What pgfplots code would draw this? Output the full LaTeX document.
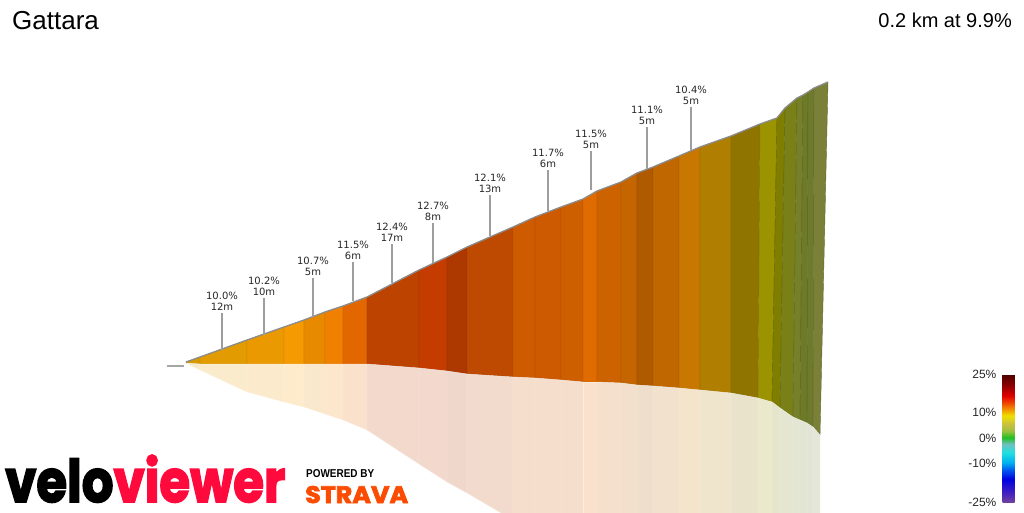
\documentclass[border=0pt]{standalone}
\usepackage{fontspec}
\setmainfont{Liberation Sans}
\newfontfamily\dv{DejaVu Sans}
\newfontfamily\logofont{Poppins}[BoldFeatures={FakeBold=3}]
\usepackage{pgfplots}
\pgfplotsset{compat=1.18}
\definecolor{c0}{HTML}{D99A00}
\definecolor{c1}{HTML}{E29B00}
\definecolor{c2}{HTML}{EA9A00}
\definecolor{c3}{HTML}{F59A00}
\definecolor{c4}{HTML}{E88A00}
\definecolor{c5}{HTML}{F08000}
\definecolor{c6}{HTML}{E36700}
\definecolor{c7}{HTML}{BC4300}
\definecolor{c8}{HTML}{C43C00}
\definecolor{c9}{HTML}{AD3900}
\definecolor{c10}{HTML}{BD4A00}
\definecolor{c11}{HTML}{CF5B00}
\definecolor{c12}{HTML}{CD5900}
\definecolor{c13}{HTML}{CE5F00}
\definecolor{c14}{HTML}{E06B00}
\definecolor{c15}{HTML}{CD6300}
\definecolor{c16}{HTML}{C56500}
\definecolor{c17}{HTML}{B05A00}
\definecolor{c18}{HTML}{C06700}
\definecolor{c19}{HTML}{C87700}
\definecolor{c20}{HTML}{B07E00}
\definecolor{c21}{HTML}{8F7400}
\definecolor{c22}{HTML}{9B9300}
\definecolor{c23}{HTML}{7F7E00}
\definecolor{c24}{HTML}{798018}
\definecolor{c25}{HTML}{76802A}
\definecolor{c26}{HTML}{6F7A28}
\definecolor{c27}{HTML}{6E7A2C}
\definecolor{c28}{HTML}{7A8038}
\definecolor{vvred}{HTML}{FF0A3C}
\definecolor{strava}{HTML}{FC4C02}
% segment: colour, then 4 corners
\newcommand{\seg}[2]{\addplot[fill=#1, draw=#1!82!black, line width=0.4pt] coordinates {#2} -- cycle;}
\newcommand{\refl}[2]{\addplot[fill=#1!20!white, draw=#1!12!white, line width=0.4pt] coordinates {#2} -- cycle;}
\newcommand{\lab}[5]{%
  \addplot[draw=black!38, line width=1.2pt] coordinates {(#1,#2) (#1,#3)};
  \node[anchor=south, align=center, inner sep=0pt, text=black!85, font=\dv\fontsize{10}{11}\selectfont] at (axis cs:#1,#2-2) {#4\\#5};}
\begin{document}
\begin{tikzpicture}
\begin{axis}[
  scale only axis, width=1024pt, height=512pt,
  xmin=0, xmax=1024, ymin=0, ymax=512, y dir=reverse,
  hide axis,
  point meta min=-25, point meta max=25,
  colormap={vv}{rgb255(0pt)=(112,64,160) rgb255(3.7pt)=(64,32,192) rgb255(8.9pt)=(0,0,224)
    rgb255(12.8pt)=(0,96,240) rgb255(15.4pt)=(0,176,240) rgb255(19.3pt)=(32,224,224)
    rgb255(22.6pt)=(112,192,192) rgb255(25.2pt)=(32,192,32) rgb255(27.8pt)=(160,192,64)
    rgb255(30.4pt)=(200,192,64) rgb255(33.7pt)=(240,224,0) rgb255(36.3pt)=(240,144,0)
    rgb255(38.9pt)=(240,64,0) rgb255(41.5pt)=(224,0,0) rgb255(45.4pt)=(144,0,0) rgb255(50pt)=(74,0,0)},
  colorbar,
  colorbar style={
    at={(parent axis.north west)}, anchor=north west,
    xshift=994pt, yshift=-374pt,
    scale only axis, width=12pt, height=128pt,
    ytick={-25,-10,0,10,25},
    yticklabels={-25\%,-10\%,0\%,10\%,25\%},
    yticklabel pos=left,
    yticklabel style={font=\fontsize{12}{12}\selectfont, inner sep=0pt, text=black!85, xshift=-6pt},
    major tick length=0pt,
    axis line style={draw=none},
    tick style={draw=none},
  },
]
% main coloured faces
\seg{c0}{(186,362)(200,357)(200,364)(186,363)}
\seg{c1}{(200,357)(247,340)(247,364)(200,364)}
\seg{c2}{(247,340)(284,327)(284,364)(247,364)}
\seg{c3}{(284,327)(304,320)(304,364)(284,364)}
\seg{c4}{(304,320)(325,312)(325,364)(304,364)}
\seg{c5}{(325,312)(343,306)(343,364)(325,364)}
\seg{c6}{(343,306)(367,297)(367,364)(343,364)}
\seg{c7}{(367,297)(419,270)(419,368)(367,364)}
\seg{c8}{(419,270)(447,257)(447,371)(419,368)}
\seg{c9}{(447,257)(467,247)(467,374)(447,371)}
\seg{c10}{(467,247)(513,227)(513,377)(467,374)}
\seg{c11}{(513,227)(535,217)(535,378)(513,377)}
\seg{c12}{(535,217)(561,207)(561,380)(535,378)}
\seg{c13}{(561,207)(583,199)(583,382)(561,380)}
\seg{c14}{(583,199)(597,191)(597,382)(583,382)}
\seg{c15}{(597,191)(621,182)(621,383)(597,382)}
\seg{c16}{(621,182)(637,173)(637,385)(621,383)}
\seg{c17}{(637,173)(653,167)(653,386)(637,385)}
\seg{c18}{(653,167)(679,156)(679,388)(653,386)}
\seg{c19}{(679,156)(700,147)(700,390)(679,388)}
\seg{c20}{(700,147)(731,136)(731,393)(700,390)}
\seg{c21}{(731,136)(760,124)(758,398)(731,393)}
\seg{c22}{(760,124)(777,118)(772,402)(758,398)}
\seg{c23}{(777,118)(785,108)(780,408)(772,402)}
\seg{c24}{(785,108)(797,98)(793,417)(780,408)}
\seg{c25}{(797,98)(803,95)(800,420)(793,417)}
\seg{c26}{(803,95)(808,92)(807,423)(800,420)}
\seg{c27}{(808,92)(814,88)(813,427)(807,423)}
\seg{c28}{(814,88)(828,82)(820,435)(813,427)}
% reflections
\refl{c0}{(186,363)(200,364)(200,370)(186,363)}
\refl{c1}{(200,364)(247,364)(247,392)(200,370)}
\refl{c2}{(247,364)(284,364)(284,402)(247,392)}
\refl{c3}{(284,364)(304,364)(304,407)(284,402)}
\refl{c4}{(304,364)(325,364)(325,414)(304,407)}
\refl{c5}{(325,364)(343,364)(343,420)(325,414)}
\refl{c6}{(343,364)(367,364)(367,430)(343,420)}
\refl{c7}{(367,364)(419,368)(419,464)(367,430)}
\refl{c8}{(419,368)(447,371)(447,482)(419,464)}
\refl{c9}{(447,371)(467,374)(467,493)(447,482)}
\refl{c10}{(467,374)(513,377)(513,520)(467,493)}
\refl{c11}{(513,377)(535,378)(535,520)(513,520)}
\refl{c12}{(535,378)(561,380)(561,520)(535,520)}
\refl{c13}{(561,380)(583,382)(583,520)(561,520)}
\refl{c14}{(583,382)(597,382)(597,520)(583,520)}
\refl{c15}{(597,382)(621,383)(621,520)(597,520)}
\refl{c16}{(621,383)(637,385)(637,520)(621,520)}
\refl{c17}{(637,385)(653,386)(653,520)(637,520)}
\refl{c18}{(653,386)(679,388)(679,520)(653,520)}
\refl{c19}{(679,388)(700,390)(700,520)(679,520)}
\refl{c20}{(700,390)(731,393)(731,520)(700,520)}
\refl{c21}{(731,393)(758,398)(758,520)(731,520)}
\refl{c22}{(758,398)(772,402)(772,520)(758,520)}
\refl{c23}{(772,402)(780,408)(780,520)(772,520)}
\refl{c24}{(780,408)(793,417)(793,520)(780,520)}
\refl{c25}{(793,417)(800,420)(800,520)(793,520)}
\refl{c26}{(800,420)(807,423)(807,520)(800,520)}
\refl{c27}{(807,423)(813,427)(813,520)(807,520)}
\refl{c28}{(813,427)(820,435)(820,520)(813,520)}
% profile edge
\addplot[draw=black!45, line width=1.3pt] coordinates {(186,362)(200,357)(247,340)(284,327)(304,320)(325,312)(343,306)(367,297)(419,270)(447,257)(467,247)(513,227)(535,217)(561,207)(583,199)(597,191)(621,182)(637,173)(653,167)(679,156)(700,147)(731,136)(760,124)(777,118)(785,108)(797,98)(803,95)(808,92)(814,88)(828,82)};
% start marker
\addplot[draw=black!35, line width=1.6pt] coordinates {(167,366)(184,366)};
% annotations
\lab{222}{313}{350}{10.0\%}{12m}
\lab{264}{298}{335}{10.2\%}{10m}
\lab{313}{278}{317}{10.7\%}{5m}
\lab{353}{262}{301}{11.5\%}{6m}
\lab{392}{244}{283}{12.4\%}{17m}
\lab{433}{223}{263}{12.7\%}{8m}
\lab{490}{195}{236}{12.1\%}{13m}
\lab{548}{170}{211}{11.7\%}{6m}
\lab{591}{151}{190}{11.5\%}{5m}
\lab{647}{127}{169}{11.1\%}{5m}
\lab{691}{107}{150}{10.4\%}{5m}
% titles
\node[anchor=base west, inner sep=0pt, font=\fontsize{26}{26}\selectfont] at (axis cs:12,29) {Gattara};
\node[anchor=base east, inner sep=0pt, font=\fontsize{20}{20}\selectfont] at (axis cs:1012,27) {0.2 km at 9.9\%};
% logos
\node[anchor=base west, inner sep=0pt] at (axis cs:5,502) {\resizebox{280pt}{47pt}{\logofont\bfseries\color{black}velo\color{vvred}viewer}};
\node[anchor=base west, inner sep=0pt] at (axis cs:306,477) {\resizebox{68pt}{8pt}{\bfseries POWERED BY}};
\node[anchor=base west, inner sep=0pt] at (axis cs:305,503) {\resizebox{103pt}{17pt}{\logofont\bfseries\color{strava}STRAVA}};
\end{axis}
\pgfresetboundingbox
\path (current axis.south west) rectangle (current axis.north east);
\end{tikzpicture}
\end{document}
